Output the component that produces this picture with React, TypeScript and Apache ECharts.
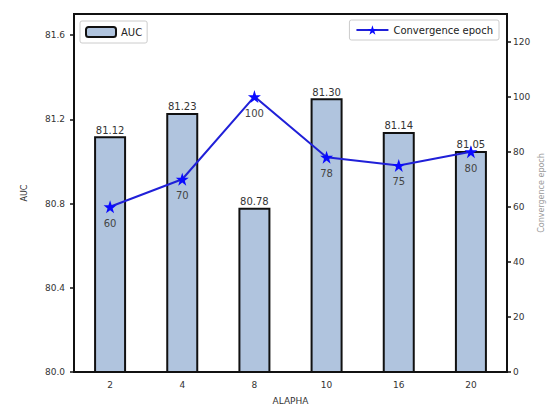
import React, { useEffect, useRef } from "react";
import * as echarts from "echarts";

const categories = ["2", "4", "8", "10", "16", "20"];
const aucValues = [81.12, 81.23, 80.78, 81.3, 81.14, 81.05];
const epochValues = [60, 70, 100, 78, 75, 80];
const aucTicks = { min: 80.0, max: 81.7, interval: 0.4 };
const epochTicks = { min: 0, max: 130, interval: 20 };

const FONT = "DejaVu Sans";

export default function App() {
  const ref = useRef<HTMLDivElement>(null);
  useEffect(() => {
    document.body.style.margin = "0";
    if (!ref.current) return;
    const chart = echarts.init(ref.current, null, { renderer: "svg" });
    chart.setOption({
      animation: false,
      backgroundColor: "#ffffff",
      textStyle: { fontFamily: FONT },
      grid: {
        left: 74,
        right: 40,
        top: 14,
        bottom: 37,
        outerBoundsMode: "none",
        containLabel: false,
        show: true,
        borderColor: "#111",
        borderWidth: 2,
        backgroundColor: "transparent",
      },
      legend: [
        {
          data: [{ name: "AUC", icon: "roundRect" }],
          left: 80,
          top: 21,
          itemWidth: 30,
          itemHeight: 10,
          itemGap: 6,
          padding: [5, 5, 5, 5],
          borderColor: "#ccc",
          borderWidth: 1,
          borderRadius: 2,
          textStyle: { fontFamily: FONT, fontSize: 10, color: "#222" },
        },
        {
          data: ["Convergence epoch"],
          right: 48,
          top: 20,
          itemWidth: 32,
          itemHeight: 12,
          padding: [5, 6, 5, 6],
          borderColor: "#ccc",
          borderWidth: 1,
          borderRadius: 2,
          textStyle: { fontFamily: FONT, fontSize: 10, color: "#222" },
        },
      ],
      xAxis: {
        type: "category",
        data: categories,
        name: "ALAPHA",
        nameLocation: "middle",
        nameGap: 24,
        nameTextStyle: { fontFamily: FONT, fontSize: 9, color: "#333" },
        axisLine: { lineStyle: { color: "#111", width: 2 } },
        axisTick: { alignWithLabel: true, length: 4, lineStyle: { color: "#111", width: 1.5 } },
        axisLabel: { fontFamily: FONT, fontSize: 9, color: "#333", margin: 8 },
      },
      yAxis: [
        {
          type: "value",
          min: aucTicks.min,
          max: aucTicks.max,
          interval: aucTicks.interval,
          name: "AUC",
          nameLocation: "middle",
          nameGap: 46,
          nameTextStyle: { fontFamily: FONT, fontSize: 8, color: "#333" },
          axisLine: { show: true, lineStyle: { color: "#111", width: 2 } },
          axisTick: { show: true, length: 4, lineStyle: { color: "#111", width: 1.5 } },
          axisLabel: {
            fontFamily: FONT,
            fontSize: 9,
            color: "#333",
            margin: 9,
            formatter: (v: number) => v.toFixed(1),
            showMaxLabel: false,
          },
          splitLine: { show: false },
        },
        {
          type: "value",
          min: epochTicks.min,
          max: epochTicks.max,
          interval: epochTicks.interval,
          name: "Convergence epoch",
          nameLocation: "middle",
          nameGap: 30,
          nameMoveOverlap: false,
          nameTextStyle: { fontFamily: FONT, fontSize: 8, color: "#999" },
          axisLine: { show: true, lineStyle: { color: "#111", width: 2 } },
          axisTick: { show: true, length: 4, lineStyle: { color: "#111", width: 1.5 } },
          axisLabel: { fontFamily: FONT, fontSize: 9, color: "#333", margin: 6, showMaxLabel: false },
          splitLine: { show: false },
        },
      ],
      series: [
        {
          name: "AUC",
          type: "bar",
          data: aucValues,
          yAxisIndex: 0,
          barWidth: 32,
          itemStyle: { color: "#b0c4de", borderColor: "#111", borderWidth: 2 },
          label: {
            show: true,
            position: "top",
            distance: 1,
            fontFamily: FONT,
            fontSize: 10,
            color: "#333",
            formatter: (p: any) => Number(p.value).toFixed(2),
          },
          z: 2,
        },
        {
          name: "Convergence epoch",
          type: "line",
          data: epochValues,
          yAxisIndex: 1,
          symbol: "path://M50,0 L61.8,35.1 L97.6,35.1 L68.8,56.7 L79.4,90.9 L50,69.1 L20.6,90.9 L31.2,56.7 L2.4,35.1 L38.2,35.1 Z",
          symbolSize: 13,
          lineStyle: { color: "#2020d8", width: 2 },
          itemStyle: { color: "#0a0aff" },
          label: {
            show: true,
            position: "bottom",
            distance: 5,
            fontFamily: FONT,
            fontSize: 10,
            color: "#444",
          },
          z: 5,
        },
      ],
    });
    return () => chart.dispose();
  }, []);
  return <div ref={ref} style={{ width: 547, height: 409 }} />;
}
